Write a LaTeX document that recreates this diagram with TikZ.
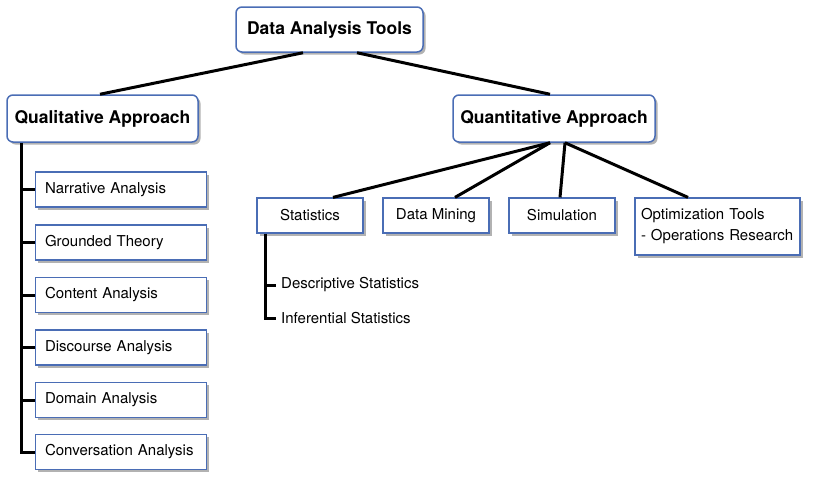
\documentclass[tikz,border=0pt]{standalone}
\usepackage{fontspec}
\setmainfont{TeX Gyre Heros}
\usetikzlibrary{shadows,positioning}
\definecolor{rahmenblau}{HTML}{4A6DB5}

\tikzset{
    schatten/.style={drop shadow={shadow xshift=2.5pt,shadow yshift=-2.5pt,opacity=0.3,fill=black}},
    headbox/.style={draw=rahmenblau,line width=1.5pt,rounded corners=6pt,fill=white,schatten,
        font=\fontsize{17.5}{20}\selectfont\bfseries,inner sep=0pt},
    toolbox/.style={draw=rahmenblau,line width=1.2pt,fill=white,schatten,
        font=\fontsize{15}{17}\selectfont,inner sep=0pt,minimum height=35pt},
    leftbox/.style={toolbox,minimum width=168pt,text width=152pt,align=left,inner xsep=9.5pt},
    subitem/.style={font=\fontsize{15}{17}\selectfont,inner sep=0pt,inner xsep=5pt},
    link/.style={line width=3pt}
}

\begin{document}
\begin{tikzpicture}[x=1pt,y=-1pt]
    \useasboundingbox (0,0) rectangle (813,482);

    % root and the two approaches
    \node[headbox,minimum width=187pt,minimum height=45pt] (tools) at (329.5,29.5) {Data Analysis Tools};
    \node[headbox,minimum width=191pt,minimum height=47pt] (qual) at (102.5,118.5) {Qualitative Approach};
    \node[headbox,minimum width=202pt,minimum height=47pt] (quant) at (554,118.5) {Quantitative Approach};

    % qualitative side
    \foreach \name/\ypos [count=\i] in {Narrative Analysis/189.5,Grounded Theory/242.5,Content Analysis/295,
        Discourse Analysis/347.5,Domain Analysis/400,Conversation Analysis/452}{
        \node[leftbox] (qa\i) at (121,\ypos) {\name};
    }

    % quantitative side
    \node[toolbox,minimum width=106pt] (stat) at (310,215.5) {Statistics};
    \node[toolbox,minimum width=106pt] (mining) at (436,215.5) {Data Mining};
    \node[toolbox,minimum width=106pt] (simu) at (562,215.5) {Simulation};
    \node[toolbox,minimum width=165pt,minimum height=57pt,text width=153pt,align=left,inner xsep=6pt,
        font=\fontsize{15}{21}\selectfont] (optim) at (717.5,226.5) {Optimization Tools\\- Operations Research};
    \node[subitem,anchor=west] (desc) at (276,285) {Descriptive Statistics};
    \node[subitem,anchor=west] (infer) at (276,318) {Inferential Statistics};

    % connectors
    \draw[link] ([xshift=-26.5pt]tools.south) -- ([xshift=-2.5pt]qual.north);
    \draw[link] ([xshift=27.5pt]tools.south) -- ([xshift=-4pt]quant.north);
    \draw[link] ([xshift=-4pt]quant.south) -- ([xshift=23pt]stat.north);
    \draw[link] ([xshift=-4pt]quant.south) -- ([xshift=19pt]mining.north);
    \draw[link] ([xshift=11pt]quant.south) -- ([xshift=-2pt]simu.north);
    \draw[link] ([xshift=11pt]quant.south) -- ([xshift=-29.5pt]optim.north);

    \draw[link] ([xshift=15pt]qual.south west) |- (qa6.west);
    \foreach \i in {1,...,5}{
        \draw[link] ([xshift=15pt]qual.south west |- qa\i.west) -- (qa\i.west);
    }
    \draw[link] ([xshift=9pt]stat.south west) |- (infer.west);
    \draw[link] ([xshift=9pt]stat.south west |- desc.west) -- (desc.west);
\end{tikzpicture}
\end{document}
